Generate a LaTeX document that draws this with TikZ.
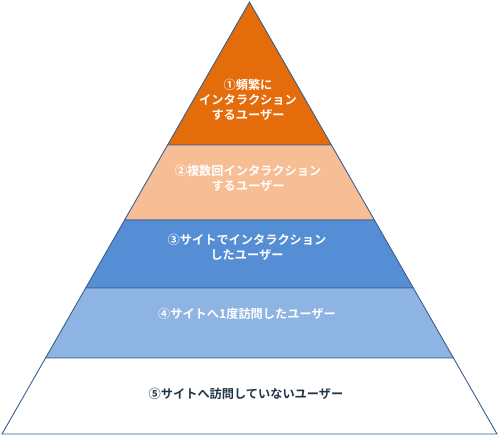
\documentclass[tikz,border=0pt]{standalone}
\usepackage{fontspec}
\newfontfamily\jp{Noto Sans CJK JP Bold}
\usetikzlibrary{calc}
\definecolor{outl}{HTML}{3A5F8C}
\definecolor{c1}{HTML}{E46C0A}
\definecolor{c2}{HTML}{F7BE96}
\definecolor{c3}{HTML}{558ED5}
\definecolor{c4}{HTML}{8EB4E3}
\definecolor{c5}{HTML}{FFFFFF}
\definecolor{txtdark}{HTML}{243447}
\tikzset{
  layer/.style={draw=outl, line width=0.9pt, line join=miter},
  lbl/.style={font=\jp\fontsize{12.2}{15}\selectfont, align=center, text=white, inner sep=0pt},
}
\begin{document}
\begin{tikzpicture}[x=1pt,y=-1pt]
\useasboundingbox (0,0) rectangle (500,436);
\coordinate (A) at (249.5,2);
\coordinate (L) at (2,434);
\coordinate (R) at (497,434);
\foreach \n/\t in {1/0.331,2/0.5046,3/0.662,4/0.824}{
  \coordinate (L\n) at ($(A)!\t!(L)$);
  \coordinate (R\n) at ($(A)!\t!(R)$);
}
\fill[white] (0,0) rectangle (500,436);
\draw[layer, fill=c1] (A) -- (R1) -- (L1) -- cycle;
\draw[layer, fill=c2] (L1) -- (R1) -- (R2) -- (L2) -- cycle;
\draw[layer, fill=c3] (L2) -- (R2) -- (R3) -- (L3) -- cycle;
\draw[layer, fill=c4] (L3) -- (R3) -- (R4) -- (L4) -- cycle;
\draw[layer, fill=c5] (L4) -- (R4) -- (R) -- (L) -- cycle;
\node[lbl] (t1) at (248,100) {①頻繁に\\インタラクション\\するユーザー};
\node[lbl] (t2) at (248,178) {②複数回インタラクション\\するユーザー};
\node[lbl] (t3) at (247,247) {③サイトでインタラクション\\したユーザー};
\node[lbl] (t4) at (247,314) {④サイトへ1度訪問したユーザー};
\node[lbl, text=txtdark] (t5) at (246,394) {⑤サイトへ訪問していないユーザー};
\end{tikzpicture}
\end{document}
